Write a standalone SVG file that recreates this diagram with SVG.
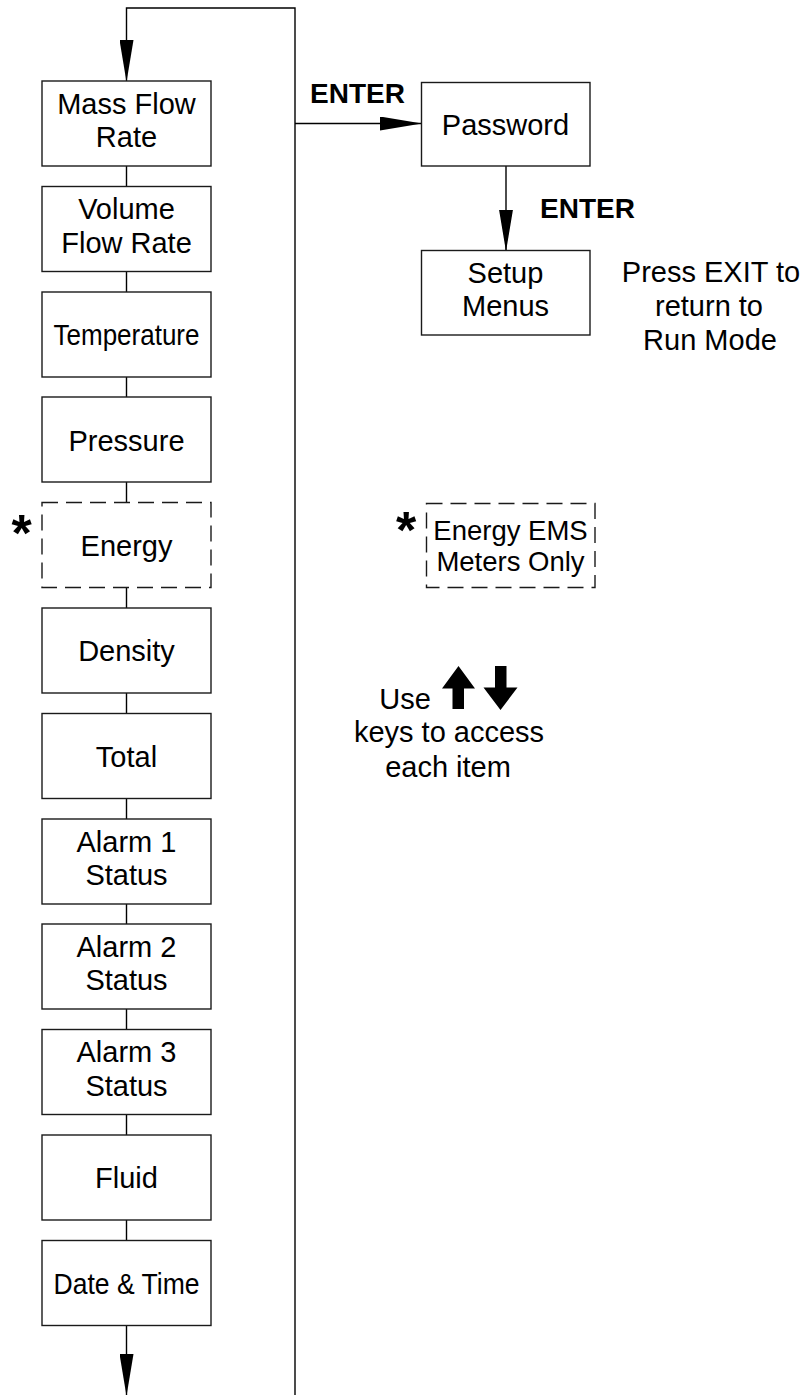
<svg xmlns="http://www.w3.org/2000/svg" width="807" height="1395" viewBox="0 0 807 1395">
<style>
text{font-family:"Liberation Sans",Arial,sans-serif;fill:#000}
.t{font-size:29px;text-anchor:middle}
.n{font-size:29px;text-anchor:middle}
.b{font-size:28px;font-weight:bold}
.box{fill:#fff;stroke:#1a1a1a;stroke-width:1.4}
.dash{fill:#fff;stroke:#1a1a1a;stroke-width:1.4;stroke-dasharray:16 8}
.ln{fill:none;stroke:#000;stroke-width:1.4}
.star{font-size:52px;font-weight:bold;text-anchor:middle}
</style>
<defs>
<marker id="ah" markerUnits="userSpaceOnUse" markerWidth="42" markerHeight="14" refX="41" refY="7" orient="auto" viewBox="0 0 42 14">
<path d="M0,0 L42,7 L0,14 Z" fill="#000"/>
</marker>
</defs>
<g id="connectors">
<path class="ln" d="M295,1395 V8 H126.5 V81" marker-end="url(#ah)"/>
<path class="ln" d="M295,123.5 H421" marker-end="url(#ah)"/>
<path class="ln" d="M506,166 V250.5" marker-end="url(#ah)"/>
<path class="ln" d="M126.5,1325.5 V1395" marker-end="url(#ah)"/>
<path class="ln" d="M126.5,166 V186.5 M126.5,271.5 V292 M126.5,377 V397 M126.5,482 V502.5 M126.5,587.5 V608 M126.5,693 V713.5 M126.5,798.5 V819 M126.5,904 V924 M126.5,1009 V1029.5 M126.5,1114.5 V1135 M126.5,1220 V1240.5"/>
</g>
<g id="n-mass"><rect class="box" x="42" y="81" width="169" height="85"/><text class="t" x="126.5" y="113.5">Mass Flow</text><text class="t" x="126.5" y="147">Rate</text></g>
<g id="n-volume"><rect class="box" x="42" y="186.5" width="169" height="85"/><text class="t" x="126.5" y="219">Volume</text><text class="t" x="126.5" y="252.5">Flow Rate</text></g>
<g id="n-temp"><rect class="box" x="42" y="292" width="169" height="85"/><text class="t" x="126.5" y="345" textLength="146" lengthAdjust="spacingAndGlyphs">Temperature</text></g>
<g id="n-pressure"><rect class="box" x="42" y="397" width="169" height="85"/><text class="t" x="126.5" y="450.5">Pressure</text></g>
<g id="n-energy"><rect class="dash" x="42" y="502.5" width="169" height="85"/><text class="t" x="126.5" y="556">Energy</text><text class="star" x="21.5" y="551">*</text></g>
<g id="n-density"><rect class="box" x="42" y="608" width="169" height="85"/><text class="t" x="126.5" y="661">Density</text></g>
<g id="n-total"><rect class="box" x="42" y="713.5" width="169" height="85"/><text class="t" x="126.5" y="766.5">Total</text></g>
<g id="n-alarm1"><rect class="box" x="42" y="819" width="169" height="85"/><text class="t" x="126.5" y="851.5">Alarm 1</text><text class="t" x="126.5" y="885">Status</text></g>
<g id="n-alarm2"><rect class="box" x="42" y="924" width="169" height="85"/><text class="t" x="126.5" y="956.5">Alarm 2</text><text class="t" x="126.5" y="990">Status</text></g>
<g id="n-alarm3"><rect class="box" x="42" y="1029.5" width="169" height="85"/><text class="t" x="126.5" y="1062">Alarm 3</text><text class="t" x="126.5" y="1095.5">Status</text></g>
<g id="n-fluid"><rect class="box" x="42" y="1135" width="169" height="85"/><text class="t" x="126.5" y="1188">Fluid</text></g>
<g id="n-datetime"><rect class="box" x="42" y="1240.5" width="169" height="85"/><text class="t" x="126.5" y="1293.5" textLength="146" lengthAdjust="spacingAndGlyphs">Date &amp; Time</text></g>
<g id="n-password"><rect class="box" x="421.5" y="82.5" width="168.5" height="83.5"/><text class="t" x="505.5" y="134.5">Password</text></g>
<g id="n-setup"><rect class="box" x="421.5" y="250.5" width="168.5" height="84.5"/><text class="t" x="505.5" y="282.5">Setup</text><text class="t" x="505.5" y="316">Menus</text></g>
<g id="labels">
<text class="b" x="310" y="103">ENTER</text>
<text class="b" x="540" y="218">ENTER</text>
<text class="n" x="711" y="282">Press EXIT to</text>
<text class="n" x="709" y="315.5">return to</text>
<text class="n" x="710" y="350">Run Mode</text>
</g>
<g id="n-note">
<rect class="dash" x="426.5" y="503.5" width="168.5" height="84"/>
<text class="star" x="406" y="548">*</text>
<text style="font-size:27.5px;text-anchor:middle" x="510.5" y="540">Energy EMS</text>
<text style="font-size:27.5px;text-anchor:middle" x="510.5" y="570.5">Meters Only</text>
</g>
<g id="n-keys">
<text class="n" x="405" y="708.5">Use</text>
<polygon points="458.5,666 475,688.5 464,688.5 464,709 452.5,709 452.5,688.5 442,688.5" fill="#000"/>
<polygon points="495,666 506.5,666 506.5,687.5 517.5,687.5 500.5,710 483.5,687.5 495,687.5" fill="#000"/>
<text class="n" x="449" y="742">keys to access</text>
<text class="n" x="448" y="777">each item</text>
</g>
</svg>
